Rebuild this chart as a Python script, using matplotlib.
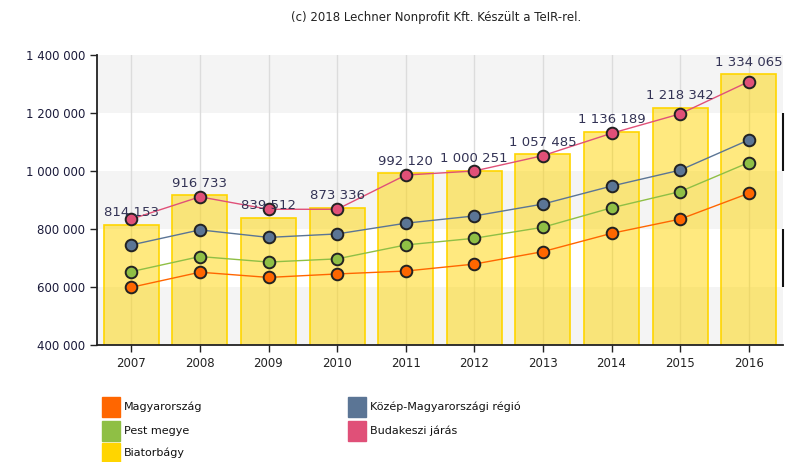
import matplotlib
matplotlib.use("Agg")
import matplotlib.pyplot as plt
import numpy as np

years = ["2007", "2008", "2009", "2010", "2011", "2012", "2013", "2014", "2015", "2016"]
biatorbagy = [814153, 916733, 839512, 873336, 992120, 1000251, 1057485, 1136189, 1218342, 1334065]
magyarorszag = [599000, 651000, 633000, 645000, 655000, 679000, 722000, 785000, 834000, 923000]
kozep = [745000, 797000, 771000, 783000, 820000, 845000, 886000, 948000, 1003000, 1107000]
pest = [653000, 705000, 686000, 697000, 745000, 768000, 806000, 873000, 929000, 1029000]
budakeszi = [834000, 911000, 868000, 868000, 986000, 1000000, 1053000, 1130000, 1197000, 1308000]
yticks = [400000, 600000, 800000, 1000000, 1200000, 1400000]

c_orange = "#ff6600"
c_blue = "#5b7595"
c_green = "#8fbf45"
c_pink = "#e05078"
c_yellow = "#ffd500"

fig = plt.figure(figsize=(7.92, 4.62), dpi=100)
ax = fig.add_axes([97/792, 1-345/462, 686/792, 290/462])

x = np.arange(len(years))
ax.set_xlim(-0.5, len(years)-0.5)
ax.set_ylim(400000, 1400000)

# alternating bands
for i, (lo, hi) in enumerate(zip(yticks[:-1], yticks[1:])):
    if i % 2 == 0:
        ax.axhspan(lo, hi, color="#f4f4f4", zorder=0, lw=0)
    else:
        ax.vlines(len(years)-0.5, lo, hi, color="#111111", lw=1.5, zorder=1, clip_on=False)
for xi in x:
    ax.axvline(xi, color="#dcdcdc", lw=1, zorder=0.5)

bars = ax.bar(x, biatorbagy, width=0.8, bottom=0, facecolor=(1.0, 0.835, 0.0, 0.5),
              edgecolor=c_yellow, lw=1.2, zorder=2)

series = [(magyarorszag, c_orange), (pest, c_green), (kozep, c_blue), (budakeszi, c_pink)]
for vals, col in series:
    ax.plot(x, vals, color=col, lw=1, zorder=3)
    ax.scatter(x, vals, s=70, color=col, edgecolor="#222222", lw=1.4, zorder=4)

def fmt(v):
    return f"{v:,}".replace(",", " ")

for xi, v in zip(x, biatorbagy):
    ax.annotate(fmt(v), (xi, v), xytext=(0, 4), textcoords="offset points",
                ha="center", va="bottom", fontsize=9.5, color="#333355", zorder=5)

ax.set_yticks(yticks)
ax.set_yticklabels([fmt(t) for t in yticks], fontsize=8.5, color="#1a1a3a")
ax.set_xticks(x)
ax.set_xticklabels(years, fontsize=8.5, color="#222222")
ax.tick_params(axis="both", length=5, width=1, color="#222222")
for s in ["top", "right"]:
    ax.spines[s].set_visible(False)
ax.spines["left"].set_color("#222222")
ax.spines["bottom"].set_color("#222222")
ax.spines["left"].set_linewidth(1.3)
ax.spines["bottom"].set_linewidth(1.3)

fig.text(436/792, 1-18/462, "(c) 2018 Lechner Nonprofit Kft. Készült a TeIR-rel.",
         ha="center", va="center", fontsize=8.5, color="#222222")

# legend
legend_items = [
    (102, 407, c_orange, "Magyarország"),
    (102, 431, c_green, "Pest megye"),
    (102, 453, c_yellow, "Biatorbágy"),
    (348, 407, c_blue, "Közép-Magyarországi régió"),
    (348, 431, c_pink, "Budakeszi járás"),
]
for lx, ly, col, lab in legend_items:
    fig.patches.append(plt.Rectangle((lx/792, 1-(ly+10)/462), 18/792, 20/462,
                                     transform=fig.transFigure, color=col, figure=fig))
    fig.text((lx+22)/792, 1-ly/462, lab, ha="left", va="center", fontsize=8, color="#111111")

fig.savefig("out.png", dpi=100)
